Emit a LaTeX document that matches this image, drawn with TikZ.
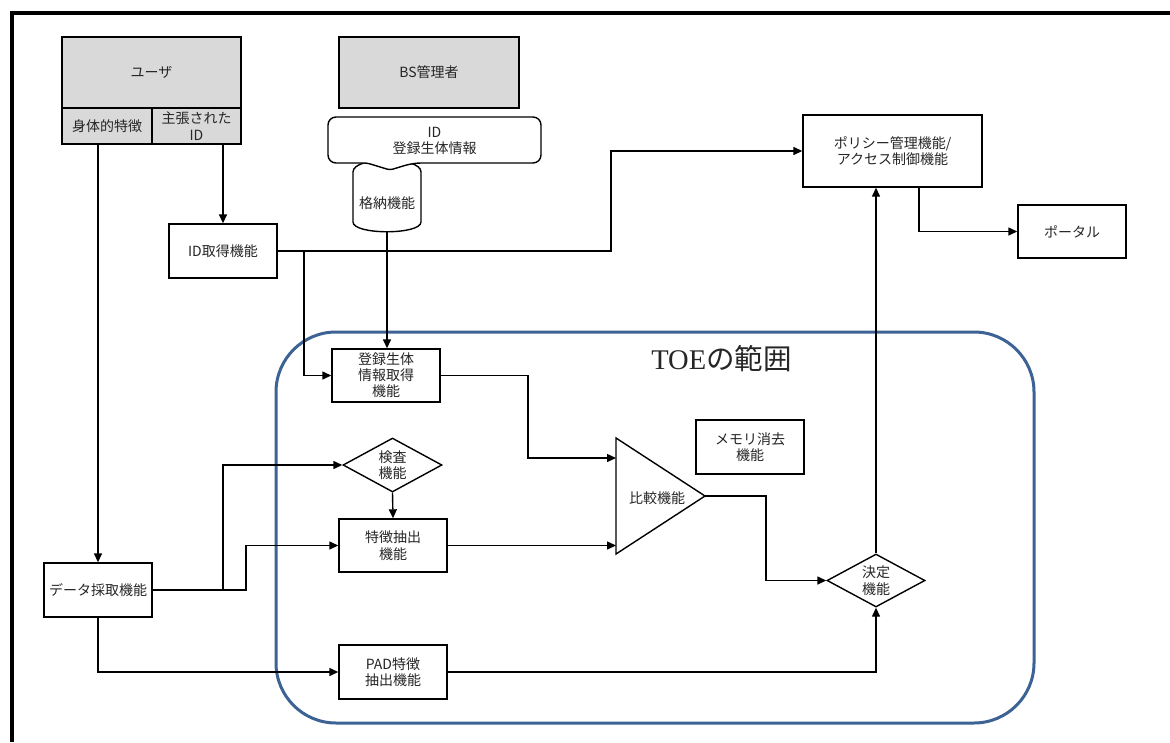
\documentclass[tikz,border=0pt]{standalone}
\usepackage{fontspec}
\setmainfont{Noto Sans CJK JP}
\newfontfamily\serifjp{Liberation Serif}
\usetikzlibrary{arrows.meta,shapes.geometric}
\definecolor{hdr}{HTML}{D9D9D9}
\definecolor{toeblue}{HTML}{3D6294}
\definecolor{txt}{HTML}{262626}
\newcommand\fs{\fontsize{14}{16.5}\selectfont}
\tikzset{
  fbox/.style={draw, line width=1.4pt, inner sep=0pt, align=center, font=\fs, text=txt},
  gbox/.style={fbox, fill=hdr},
  dia/.style={fbox, diamond, aspect=1.83},
  arr/.style={-{Triangle[length=9pt,width=8pt]}, line width=1.4pt},
  ln/.style={line width=1.4pt},
}
\begin{document}
\begin{tikzpicture}[x=1pt,y=-1pt]
\useasboundingbox (0,0) rectangle (1170,742);
\fill[white] (0,0) rectangle (1170,742);
% frame
\draw[line width=4pt] (11.5,742) -- (11.5,12.5) -- (1170,12.5);
% TOE scope
\draw[line width=3pt, toeblue, rounded corners=60pt] (276,332) rectangle (1034,723);
\node[anchor=base, font=\fontsize{28.5}{30}\selectfont, text=txt, inner sep=0pt] (toe) at (721.5,369) {{\serifjp TOE}の範囲};

% user
\node[gbox, minimum width=179pt, minimum height=71pt] (uhead) at (151.5,72.5) {ユーザ};
\node[gbox, minimum width=90pt, minimum height=36pt] (ubody) at (107,126) {身体的特徴};
\node[gbox, minimum width=89pt, minimum height=36pt] (uid) at (196.5,126) {主張された\\ID};
% BS admin
\node[gbox, minimum width=180pt, minimum height=71pt] (bs) at (429,72.5) {BS管理者};

% storage cylinder
\draw[ln, fill=white] (353,172) -- (353,222) .. controls (353,235) and (421,235) .. (421,222)
  -- (421,172) .. controls (421,156) and (353,156) .. (353,172) -- cycle;
\node[font=\fs, text=txt] (stor) at (387,203) {格納機能};
\coordinate (storb) at (387,232);
% callout
\draw[ln, fill=white] (328,140) [rounded corners=8pt] -- (328,117) -- (541,117) -- (541,163) -- (413,163)
  [rounded corners=3pt] -- (390,170) -- (367,163) [rounded corners=8pt] -- (328,163) -- cycle;
\node[font=\fs, text=txt, align=center] (cal) at (434.5,141) {ID\\登録生体情報};

% boxes
\node[fbox, minimum width=108pt, minimum height=54pt] (idget) at (223,251) {ID取得機能};
\node[fbox, minimum width=179pt, minimum height=72pt] (pol) at (892.5,151) {ポリシー管理機能/\\アクセス制御機能};
\node[fbox, minimum width=108pt, minimum height=53pt] (portal) at (1072,231.5) {ポータル};
\node[fbox, minimum width=108pt, minimum height=53pt, font=\fontsize{14}{16}\selectfont] (reg) at (386,375.5) {登録生体\\情報取得\\機能};
\node[dia, minimum width=99pt, minimum height=54pt] (ken) at (392.5,465) {検査\\機能};
\node[fbox, minimum width=108pt, minimum height=53pt] (tok) at (393,545.5) {特徴抽出\\機能};
\node[fbox, minimum width=108pt, minimum height=54pt] (mem) at (750,447) {メモリ消去\\機能};
\node[dia, minimum width=98pt, minimum height=53pt] (ket) at (876,580.5) {決定\\機能};
\node[fbox, minimum width=108pt, minimum height=54pt] (pad) at (393,672) {PAD特徴\\抽出機能};
\node[fbox, minimum width=108pt, minimum height=54pt] (dat) at (98,590) {データ採取機能};

% comparison triangle
\coordinate (hikA) at (616,458);
\coordinate (hikB) at (616,546);
\coordinate (hikO) at (705,496);
\draw[ln, fill=white] (616,438) -- (hikO) -- (616,554) -- cycle;
\node[font=\fs, text=txt] (hik) at (657,498) {比較機能};

% connectors
\draw[arr] (ubody.south -| dat.north) -- (dat.north);
\draw[arr] (uid.south -| idget.north) -- (idget.north);
\draw[arr] (storb) -- (storb |- reg.north);
\draw[arr] (idget.east) -- (611,251) |- (pol.west);
\draw[arr] (idget.east) -- (304,251) |- (reg.west);
\draw[arr] ([xshift=26.5pt]pol.south) |- (portal.west);
\draw[arr] (reg.east) -| (528,458) -- (hikA);
\draw[arr] (tok.east) -- (tok.east -| hikB);
\draw[arr] (hikO) -- (766,496) |- (ket.west);
\draw[arr] (ket.north) -- (ket.north |- pol.south);
\draw[arr] (pad.east) -| (ket.south);
\draw[arr] (dat.east) -- (246,590) |- (tok.west);
\draw[arr] (dat.east) -- (223,590) |- (ken.west);
\draw[arr] (ken.south) -- (tok.north);
\draw[arr] (dat.south) |- (pad.west);
\end{tikzpicture}
\end{document}
